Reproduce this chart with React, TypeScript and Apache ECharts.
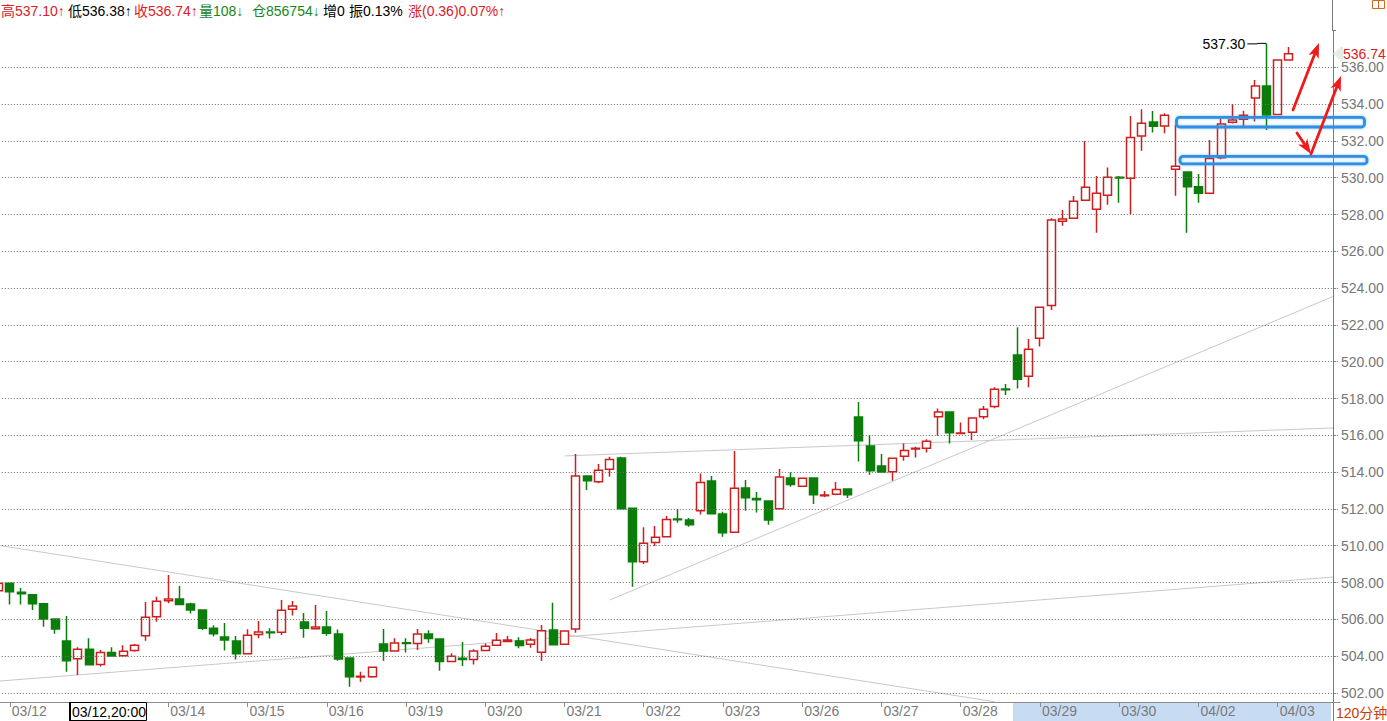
import React, { useEffect, useRef } from "react";
import * as echarts from "echarts";

// ---------- data ----------
const dayLabels = [
  "03/12", "03/13", "03/14", "03/15", "03/16", "03/19", "03/20", "03/21", "03/22",
  "03/23", "03/26", "03/27", "03/28", "03/29", "03/30", "04/02", "04/03",
];
const prevDayLabel = "03/09";
const hiddenDay = "03/13"; // covered by the cursor date box
const barsPerDay = 7;
const emptySlots = 4;

const opens = [
  507.55, 507.96, 507.47, 507.34, 506.85, 506.02, 504.82, 503.86, 504.37, 503.55,
  504.2, 504.02, 504.3, 505.11, 506.14, 507.01, 507.1, 506.83, 506.51, 505.51,
  505.04, 504.82, 504.13, 505.18, 505.31, 505.29, 506.54, 505.85, 505.49, 505.58,
  505.2, 503.9, 502.86, 502.88, 504.66, 504.28, 504.73, 504.69, 505.2, 504.93,
  503.7, 503.88, 503.82, 504.3, 504.59, 504.8, 504.82, 504.64, 504.21, 505.42,
  504.64, 505.47, 513.79, 513.48, 514.15, 514.77, 512.03, 509.13, 510.17, 510.49,
  511.45, 511.4, 511.9, 513.52, 511.72, 510.73, 513.14, 512.57, 512.43, 512.01,
  513.68, 513.23, 513.68, 512.72, 512.79, 513.08, 516.99, 515.42, 514.33, 514.02,
  514.86, 515.26, 515.29, 517.01, 517.27, 516.1, 516.16, 517.01, 517.56, 518.51,
  520.36, 519.21, 521.27, 523.06, 527.63, 527.79, 528.77, 528.28, 529.04, 530.02,
  529.97, 532.27, 533.03, 532.81, 530.46, 530.31, 529.51, 529.15, 531.09, 533.01,
  533.17, 534.33, 534.98, 533.43, 536.4,
];
const closes = [
  507.96, 507.5, 507.39, 506.85, 506.02, 505.47, 503.75, 504.37, 503.53, 504.2,
  504.01, 504.26, 504.59, 506.11, 506.98, 507.1, 506.8, 506.51, 505.51, 505.22,
  504.88, 504.13, 505.13, 505.31, 505.27, 506.49, 506.72, 505.51, 505.58, 505.24,
  503.84, 502.88, 502.9, 503.39, 504.28, 504.71, 504.69, 505.2, 504.95, 503.7,
  503.99, 503.81, 504.28, 504.53, 504.86, 504.88, 504.57, 504.88, 505.38, 504.62,
  505.36, 513.79, 513.53, 514.1, 514.69, 512.01, 509.13, 510.13, 510.46, 511.43,
  511.41, 511.14, 513.44, 511.74, 510.71, 513.12, 512.61, 512.5, 511.4, 513.73,
  513.32, 513.66, 512.77, 512.76, 513.06, 512.77, 515.71, 514.08, 514.0, 514.75,
  515.18, 515.29, 515.67, 517.27, 516.14, 516.12, 516.94, 517.41, 518.5, 518.48,
  519.04, 520.67, 522.96, 527.7, 527.76, 528.72, 529.48, 529.15, 530.02, 529.98,
  532.19, 532.96, 532.79, 533.39, 530.62, 529.51, 529.15, 531.05, 532.92, 533.14,
  533.39, 534.98, 533.41, 536.4, 536.74,
];
const lows = [
  507.5, 506.81, 506.81, 506.51, 505.6, 505.22, 503.15, 502.97, 503.53, 503.43,
  504.0, 503.97, 504.24, 504.84, 505.87, 506.87, 506.8, 506.32, 505.42, 505.06,
  504.3, 503.82, 504.13, 504.97, 504.95, 505.15, 506.2, 505.0, 505.49, 505.11,
  503.75, 502.34, 502.61, 502.83, 503.75, 504.24, 504.19, 504.33, 504.73, 503.21,
  503.7, 503.46, 503.54, 504.3, 504.59, 504.77, 504.42, 504.46, 503.73, 504.62,
  504.64, 505.27, 513.03, 513.39, 513.75, 512.01, 507.77, 509.01, 509.98, 510.49,
  511.25, 511.03, 511.69, 511.74, 510.49, 510.73, 511.9, 511.8, 511.14, 512.01,
  513.21, 513.23, 512.27, 512.63, 512.74, 512.59, 514.58, 513.86, 514.0, 513.53,
  514.62, 514.8, 515.06, 515.98, 515.56, 516.1, 515.74, 516.87, 517.47, 518.19,
  518.55, 518.61, 520.82, 522.81, 527.39, 527.79, 528.77, 527.01, 528.53, 528.64,
  528.01, 531.47, 532.45, 532.41, 529.02, 527.01, 528.64, 529.15, 531.0, 532.95,
  532.81, 533.05, 532.59, 533.43, 536.38,
];
const highs = [
  508.0, 507.96, 507.7, 507.34, 506.9, 506.02, 506.18, 504.48, 504.97, 504.33,
  504.48, 504.59, 504.66, 506.94, 507.23, 508.41, 507.81, 506.9, 506.51, 505.67,
  505.8, 505.09, 505.46, 505.91, 505.51, 507.05, 507.0, 506.34, 506.78, 506.45,
  505.45, 503.9, 503.15, 503.39, 505.47, 504.97, 504.97, 505.47, 505.4, 504.93,
  504.15, 504.77, 504.37, 504.68, 505.26, 505.09, 505.02, 504.98, 505.69, 506.9,
  505.36, 514.98, 513.79, 514.44, 514.84, 514.84, 512.03, 511.0, 511.07, 511.62,
  512.0, 511.51, 513.92, 513.79, 511.85, 515.15, 513.57, 512.92, 512.43, 514.17,
  513.99, 513.66, 513.68, 512.97, 513.46, 513.08, 517.81, 516.02, 514.98, 514.75,
  515.56, 515.38, 515.78, 517.45, 517.27, 516.7, 516.98, 517.59, 518.61, 518.79,
  521.87, 521.23, 522.96, 527.79, 528.25, 529.01, 532.0, 530.09, 530.56, 530.09,
  533.35, 533.72, 533.63, 533.5, 532.86, 530.31, 530.2, 532.05, 533.23, 534.0,
  533.64, 535.31, 537.3, 536.4, 537.1,
];

// trend lines: [barIndex, price] endpoints
const trendDown = [[0, 510.02], [88, 501.52]];
const trendLowRise = [[0, 502.64], [118, 508.3]];
const trendFlat = [[50, 514.88], [118, 516.4]];
const trendSteep = [[54, 507.05], [118, 523.57]];

const yMin = 500;
const yMax = 538;
const yStep = 2;

const highMarkIndex = 112;
const highMarkValue = 537.3;
const lastPrice = 536.74;

const headerItems = [
  { text: "高537.10↑", color: "#dc2026", x: 1 },
  { text: "低536.38↑", color: "#000000", x: 68 },
  { text: "收536.74↑", color: "#dc2026", x: 134 },
  { text: "量108↓", color: "#17871c", x: 199 },
  { text: "仓856754↓", color: "#17871c", x: 252 },
  { text: "增0", color: "#000000", x: 323 },
  { text: "振0.13%", color: "#000000", x: 349 },
  { text: "涨(0.36)0.07%↑", color: "#dc2026", x: 408 },
];
const cursorLabel = "03/12,20:00";
const periodLabel = "120分钟";

// ---------- layout ----------
const FONT = "'Liberation Sans', Arial, 'Noto Sans CJK SC', sans-serif";
const BAR = 11.32;
const GRID_LEFT = -7.16;
const GRID_TOP = 30.5;
const GRID_H = 699.2;
const RED = "#cc1f1f";
const GREEN = "#0b7d0b";
const ARROW = "#f2191b";
const BLUE = "#2d8fe4";

function arrow(x1: number, y1: number, x2: number, y2: number) {
  const dx = x2 - x1;
  const dy = y2 - y1;
  const len = Math.hypot(dx, dy);
  const ux = dx / len;
  const uy = dy / len;
  const px = -uy;
  const py = ux;
  const hl = 15;
  const hw = 5.5;
  const bx = x2 - ux * hl;
  const by = y2 - uy * hl;
  return [
    {
      type: "line",
      z: 30,
      silent: true,
      shape: { x1, y1, x2: bx + ux * 4, y2: by + uy * 4 },
      style: { stroke: ARROW, lineWidth: 2.8, lineCap: "round" },
    },
    {
      type: "polygon",
      z: 30,
      silent: true,
      shape: {
        points: [
          [x2, y2],
          [bx + px * hw, by + py * hw],
          [bx + ux * 4, by + uy * 4],
          [bx - px * hw, by - py * hw],
        ],
      },
      style: { fill: ARROW },
    },
  ];
}

export default function App() {
  const ref = useRef<HTMLDivElement>(null);

  useEffect(() => {
    document.body.style.margin = "0";
    if (!ref.current) return;
    const chart = echarts.init(ref.current, null, { renderer: "svg" });

    const total = opens.length + emptySlots;
    const categories: string[] = [];
    for (let k = 0; k < total; k++) {
      const day = k === 0 ? prevDayLabel : dayLabels[Math.min(dayLabels.length - 1, Math.floor((k - 1) / barsPerDay))];
      categories.push(day + "#" + k);
    }
    const isDayStart = (idx: number) => idx >= 1 && (idx - 1) % barsPerDay === 0;
    const showLabel = (idx: number) => isDayStart(idx) && categories[idx].split("#")[0] !== hiddenDay;
    const candles = opens.map((o, i) => [o, closes[i], lows[i], highs[i]]);

    const lineSeries = (data: number[][]) => ({
      type: "line",
      data,
      symbol: "none",
      silent: true,
      z: 1,
      lineStyle: { color: "#c9c9c9", width: 1 },
    });

    chart.setOption({
      animation: false,
      backgroundColor: "#ffffff",
      grid: {
        left: GRID_LEFT,
        top: GRID_TOP,
        width: BAR * total,
        height: GRID_H,
        containLabel: false,
        outerBoundsMode: "none",
      },
      xAxis: {
        type: "category",
        data: categories,
        boundaryGap: true,
        offset: -27.7,
        z: 10,
        axisLine: { show: true, lineStyle: { color: "#8c8c8c", width: 1 } },
        axisTick: {
          show: true,
          alignWithLabel: true,
          interval: (idx: number) => showLabel(idx),
          length: 5,
          lineStyle: { color: "#8c8c8c" },
        },
        axisLabel: {
          show: true,
          interval: (idx: number) => showLabel(idx),
          formatter: (v: string) => v.split("#")[0],
          align: "left",
          margin: 2,
          padding: [0, 0, 0, 2],
          color: "#7a7a7a",
          fontSize: 14,
          fontFamily: FONT,
        },
        splitLine: { show: false },
      },
      yAxis: {
        type: "value",
        position: "right",
        offset: -7,
        min: yMin,
        max: yMax,
        interval: yStep,
        z: 10,
        axisLine: { show: true, lineStyle: { color: "#7a7a7a", width: 1 } },
        axisTick: { show: true, length: 3, lineStyle: { color: "#7a7a7a" } },
        axisLabel: {
          color: "#777777",
          fontSize: 14,
          fontFamily: FONT,
          margin: 8,
          formatter: (v: number) => (v >= yMax || v <= yMin ? "" : v.toFixed(2)),
        },
        splitLine: {
          show: true,
          showMaxLine: false,
          showMinLine: false,
          lineStyle: { color: "#6e6e6e", width: 1, type: [1, 2] },
        },
      },
      series: [
        lineSeries(trendDown),
        lineSeries(trendLowRise),
        lineSeries(trendFlat),
        lineSeries(trendSteep),
        {
          type: "candlestick",
          data: candles,
          barWidth: 8.5,
          z: 3,
          silent: true,
          itemStyle: {
            color: "#ffffff",
            color0: GREEN,
            borderColor: RED,
            borderColor0: GREEN,
            borderWidth: 1.5,
          },
        },
      ],
    });

    const hp = chart.convertToPixel({ gridIndex: 0 }, [highMarkIndex, highMarkValue]) as number[];
    const lastY = chart.convertToPixel({ yAxisIndex: 0 }, lastPrice) as number;

    const graphics: any[] = [];
    headerItems.forEach((h) => {
      graphics.push({
        type: "text",
        x: h.x,
        y: 11,
        z: 20,
        silent: true,
        style: { text: h.text, fill: h.color, font: "14px " + FONT, textVerticalAlign: "middle" },
      });
    });
    // axis line continuation to the top edge
    graphics.push({
      type: "line",
      z: 20,
      silent: true,
      shape: { x1: 1332.5, y1: 0, x2: 1332.5, y2: 31 },
      style: { stroke: "#7a7a7a", lineWidth: 1 },
    });
    // highlighted range under x-axis
    graphics.push({
      type: "rect",
      z: 1,
      silent: true,
      shape: { x: 1013, y: 703, width: 318, height: 18 },
      style: { fill: "#c7dcf3" },
    });
    // cursor date box
    graphics.push({
      type: "rect",
      z: 20,
      silent: true,
      shape: { x: 69.5, y: 702.5, width: 77, height: 18 },
      style: { fill: "#ffffff", stroke: "#000000", lineWidth: 1 },
    });
    graphics.push({
      type: "line",
      z: 21,
      silent: true,
      shape: { x1: 70, y1: 702, x2: 70, y2: 721 },
      style: { stroke: "#000000", lineWidth: 2 },
    });
    graphics.push({
      type: "text",
      x: 72,
      y: 712,
      z: 21,
      silent: true,
      style: { text: cursorLabel, fill: "#000000", font: "14px " + FONT, textVerticalAlign: "middle" },
    });
    // period label
    graphics.push({
      type: "text",
      x: 1336,
      y: 713,
      z: 20,
      silent: true,
      style: { text: periodLabel, fill: "#cc3a00", font: "14px " + FONT, textVerticalAlign: "middle" },
    });
    // top-right icon
    graphics.push({
      type: "rect",
      z: 20,
      silent: true,
      shape: { x: 1372.5, y: 0.5, width: 6, height: 8 },
      style: { fill: "none", stroke: "#d2691e", lineWidth: 1 },
    });
    graphics.push({
      type: "rect",
      z: 20,
      silent: true,
      shape: { x: 1378.5, y: 0.5, width: 6, height: 8 },
      style: { fill: "none", stroke: "#d2691e", lineWidth: 1 },
    });
    // last price tag
    graphics.push({
      type: "polygon",
      z: 20,
      silent: true,
      shape: {
        points: [
          [1333, lastY],
          [1341, lastY - 7],
          [1343, lastY - 7],
          [1343, lastY + 7],
          [1341, lastY + 7],
        ],
      },
      style: { fill: "#e3efe3" },
    });
    graphics.push({
      type: "text",
      x: 1343,
      y: lastY,
      z: 21,
      silent: true,
      style: { text: lastPrice.toFixed(2), fill: "#dc2026", font: "14px " + FONT, textVerticalAlign: "middle" },
    });
    // high annotation
    graphics.push({
      type: "polyline",
      z: 20,
      silent: true,
      shape: { points: [[hp[0] - 19, hp[1] + 0.5], [hp[0] - 9, hp[1] + 0.5], [hp[0] - 9, hp[1]], [hp[0], hp[1]]] },
      style: { stroke: "#000000", lineWidth: 1, fill: "none" },
    });
    graphics.push({
      type: "text",
      x: hp[0] - 21,
      y: hp[1] + 1,
      z: 20,
      silent: true,
      style: {
        text: highMarkValue.toFixed(2),
        fill: "#000000",
        font: "14px " + FONT,
        textAlign: "right",
        textVerticalAlign: "middle",
      },
    });
    // blue boxes
    graphics.push({
      type: "rect",
      z: 25,
      silent: true,
      shape: { x: 1176.5, y: 117.3, width: 188, height: 9.7, r: 3 },
      style: { fill: "none", stroke: BLUE, lineWidth: 2.8, shadowBlur: 3, shadowColor: "rgba(45,143,228,0.5)" },
    });
    graphics.push({
      type: "rect",
      z: 25,
      silent: true,
      shape: { x: 1180, y: 156.3, width: 187, height: 7.6, r: 3 },
      style: { fill: "none", stroke: BLUE, lineWidth: 2.8, shadowBlur: 3, shadowColor: "rgba(45,143,228,0.5)" },
    });
    // arrows
    graphics.push(...arrow(1293, 110, 1319, 43));
    graphics.push(...arrow(1297, 133, 1311, 154));
    graphics.push(...arrow(1311, 154, 1341, 76));

    chart.setOption({ graphic: graphics });

    return () => chart.dispose();
  }, []);

  return <div ref={ref} style={{ width: 1387, height: 721 }} />;
}
